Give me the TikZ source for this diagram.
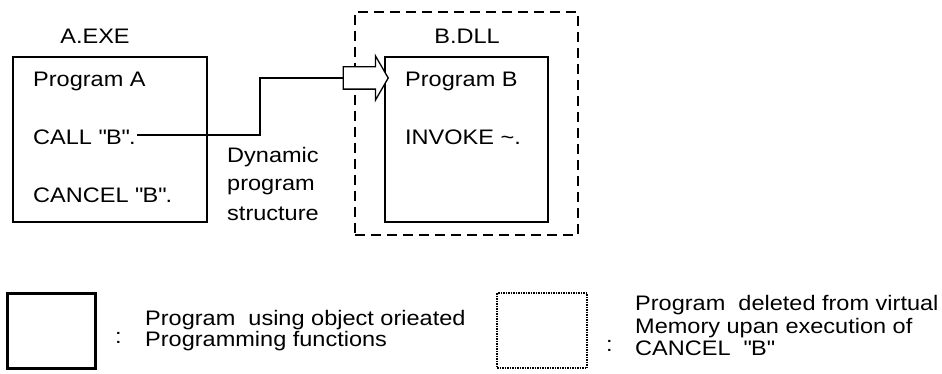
\documentclass[tikz,border=0pt]{standalone}
\usepackage{fontspec}
\setmainfont[FakeStretch=1.12]{Liberation Sans}
\usetikzlibrary{shapes.arrows}
\begin{document}
\begin{tikzpicture}[x=1pt,y=-1pt,
  lbl/.style={anchor=base west,inner sep=0pt,font=\fontsize{21}{24}\selectfont},
  ctr/.style={anchor=base,inner sep=0pt,font=\fontsize{21}{24}\selectfont},
  prog/.style={draw,line width=1.5pt,inner sep=0pt},
  conn/.style={line width=1.5pt}]
\useasboundingbox (0,0) rectangle (942,374);
% dashed DLL box
\node[draw,dashed,dash pattern=on 10pt off 6pt,line width=2pt,minimum width=223pt,minimum height=223pt,inner sep=0pt] (dll) at (466.5,123.5) {};
% program boxes
\node[prog,minimum width=194pt,minimum height=165pt] (boxA) at (110,139.5) {};
\node[prog,minimum width=163pt,minimum height=165pt] (boxB) at (466.5,139.5) {};
\node[ctr] (aexe) at (95,44) {A.EXE};
\node[ctr] (bdll) at (467,44) {B.DLL};
\node[lbl] (pa) at (33,87) {Program A};
\node[lbl] (call) at (33,145) {CALL \textquotedbl B\textquotedbl .};
\node[lbl] (cancel) at (33,203) {CANCEL \textquotedbl B\textquotedbl .};
\node[lbl] (pb) at (405,87) {Program B};
\node[lbl] (inv) at (405,145) {INVOKE \textasciitilde.};
\node[lbl] (dyn1) at (227,163) {Dynamic};
\node[lbl] (dyn2) at (227,191) {program};
\node[lbl] (dyn3) at (227,220) {structure};
% block arrow
\node[single arrow,draw,line width=1.3pt,inner ysep=10.5pt,inner xsep=0pt,minimum height=45pt,single arrow head extend=11pt,single arrow tip angle=120,fill=white] (arr) at (362.5,78) {};
\path (call.base east) ++(1,-10) coordinate (cs);
\draw[conn] (cs) -- (260,135) |- (arr.tail);
% legend
\node[draw,line width=3pt,minimum width=88pt,minimum height=75pt,inner sep=0pt] (legA) at (51,330.5) {};
\node[lbl] (colA) at (115,343) {:};
\node[lbl] (la1) at (145,325) {Program\ \ using object orieated};
\node[lbl] (la2) at (145,346) {Programming functions};
\node[draw,densely dotted,line width=1.5pt,minimum width=90pt,minimum height=75pt,inner sep=0pt] (legB) at (542,330.5) {};
\node[lbl] (colB) at (606,351) {:};
\node[lbl] (lb1) at (635,310) {Program\ \ deleted from virtual};
\node[lbl] (lb2) at (635,333) {Memory upan execution of};
\node[lbl] (lb3) at (635,355) {CANCEL\ \ \textquotedbl B\textquotedbl};
\end{tikzpicture}
\end{document}
